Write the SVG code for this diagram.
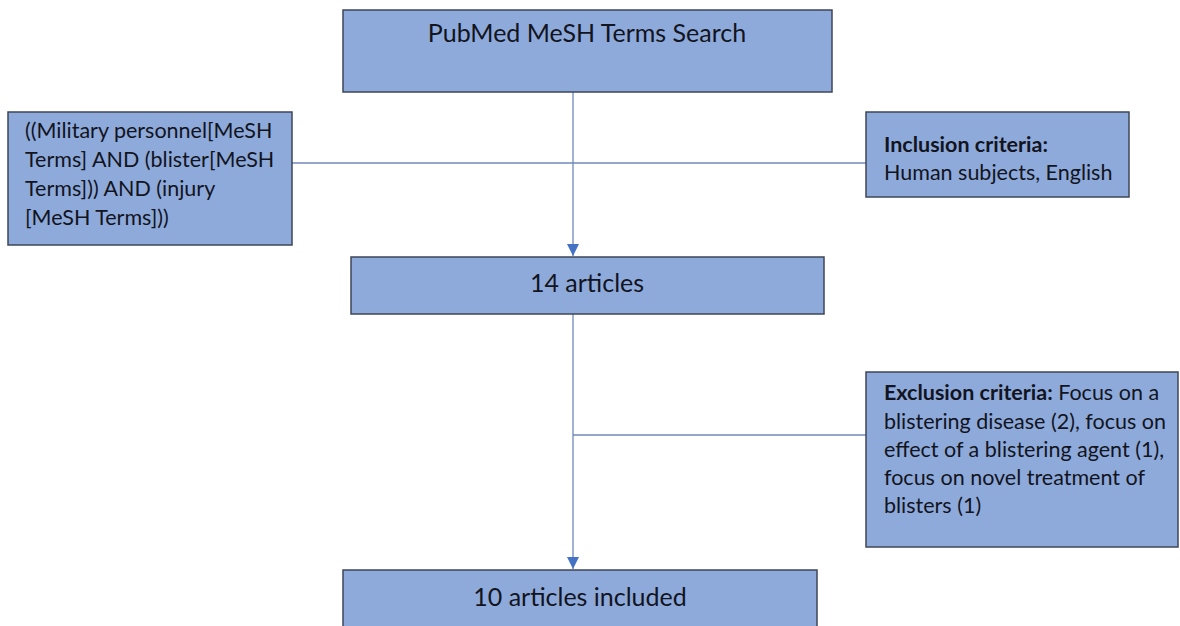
<svg xmlns="http://www.w3.org/2000/svg" width="1180" height="626" viewBox="0 0 1180 626">
<style>
.box{fill:#8eaadb;stroke:#3e4658;stroke-width:1.5}
.t{font-family:Lato,"Liberation Sans",sans-serif;font-size:25px;fill:#121420}
.s{font-size:21.5px}
.c{text-anchor:middle}
.b{font-weight:bold}
.ln{stroke:#7189b8;stroke-width:1.3;fill:none}
</style>
<defs>
<marker id="ah" markerUnits="userSpaceOnUse" markerWidth="12" markerHeight="12" refX="12" refY="6" orient="auto">
<path d="M0,0 L12,6 L0,12 z" fill="#4472c4"/>
</marker>
</defs>
<rect width="1180" height="626" fill="#ffffff"/>
<g id="connectors">
<line class="ln" x1="573" y1="92" x2="573" y2="256" marker-end="url(#ah)"/>
<line class="ln" x1="292" y1="163" x2="866" y2="163"/>
<line class="ln" x1="573" y1="314" x2="573" y2="569" marker-end="url(#ah)"/>
<line class="ln" x1="573" y1="435" x2="866" y2="435"/>
</g>
<g id="search">
<rect class="box" x="343" y="10" width="489" height="82"/>
<text class="t c" x="587" y="42">PubMed MeSH Terms Search</text>
</g>
<g id="query">
<rect class="box" x="8" y="112" width="284" height="133"/>
<text class="t s" x="25" y="138">((Military personnel[MeSH</text>
<text class="t s" x="25" y="167">Terms] AND (blister[MeSH</text>
<text class="t s" x="25" y="196">Terms])) AND (injury</text>
<text class="t s" x="25" y="225">[MeSH Terms]))</text>
</g>
<g id="inclusion">
<rect class="box" x="866" y="112" width="263" height="85"/>
<text class="t s b" x="884" y="152">Inclusion criteria:</text>
<text class="t s" x="884" y="180">Human subjects, English</text>
</g>
<g id="articles14">
<rect class="box" x="351" y="257" width="473" height="57"/>
<text class="t c" x="587" y="292">14 articles</text>
</g>
<g id="exclusion">
<rect class="box" x="866" y="372" width="312" height="175"/>
<text class="t s" x="884" y="400"><tspan class="b">Exclusion criteria:</tspan> Focus on a</text>
<text class="t s" x="884" y="429">blistering disease (2), focus on</text>
<text class="t s" x="884" y="457">effect of a blistering agent (1),</text>
<text class="t s" x="884" y="485">focus on novel treatment of</text>
<text class="t s" x="884" y="513">blisters (1)</text>
</g>
<g id="included">
<rect class="box" x="343" y="570" width="474" height="70"/>
<text class="t c" x="580" y="606">10 articles included</text>
</g>
</svg>
